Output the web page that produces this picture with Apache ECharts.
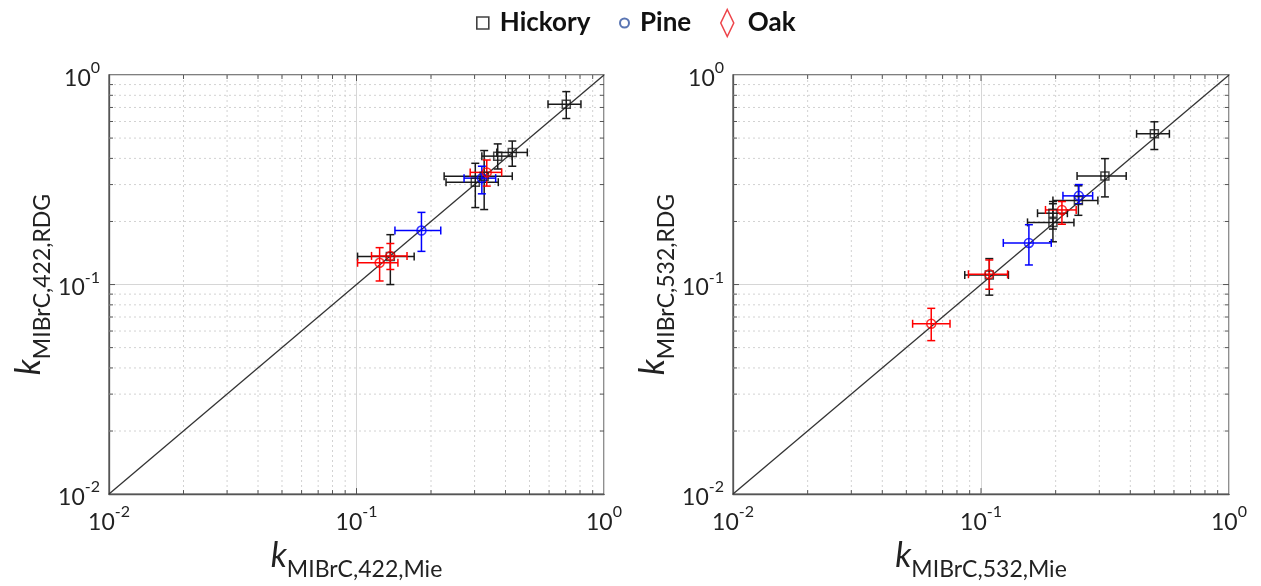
<!DOCTYPE html>
<html><head><meta charset="utf-8">
<script src="https://cdn.jsdelivr.net/npm/echarts@6/dist/echarts.min.js"></script>
<style>html,body{margin:0;padding:0;background:#fff}#c{width:1261px;height:586px}</style>
</head><body><div id="c"></div>
<script>
// each row: [kMie, kRDG, kMie low, kMie high, kRDG low, kRDG high]
const hickory422 = [
  [0.704,0.726,0.594,0.807,0.620,0.833],
  [0.426,0.427,0.369,0.490,0.367,0.484],
  [0.372,0.410,0.321,0.426,0.356,0.469],
  [0.302,0.308,0.230,0.374,0.233,0.379],
  [0.328,0.329,0.226,0.426,0.228,0.436],
  [0.137,0.136,0.101,0.171,0.100,0.173]
];
const pine422 = [
  [0.321,0.322,0.272,0.365,0.271,0.367],
  [0.183,0.181,0.143,0.219,0.144,0.221]
];
const oak422 = [
  [0.336,0.343,0.288,0.386,0.295,0.393],
  [0.137,0.137,0.115,0.160,0.118,0.157],
  [0.124,0.127,0.101,0.147,0.104,0.150]
];
const hickory532 = [
  [0.500,0.524,0.424,0.575,0.441,0.598],
  [0.316,0.330,0.244,0.385,0.262,0.399],
  [0.247,0.252,0.195,0.296,0.214,0.296],
  [0.195,0.219,0.169,0.223,0.184,0.243],
  [0.195,0.198,0.154,0.237,0.160,0.249],
  [0.108,0.111,0.086,0.129,0.089,0.133]
];
const pine532 = [
  [0.248,0.265,0.214,0.282,0.243,0.300],
  [0.156,0.158,0.123,0.192,0.124,0.193]
];
const oak532 = [
  [0.212,0.227,0.182,0.242,0.194,0.249],
  [0.108,0.112,0.089,0.128,0.095,0.131],
  [0.063,0.065,0.053,0.075,0.054,0.077]
];
const axisRange = [0.01, 1];
const decades = [0.01, 0.1];
const minorMultipliers = [2,3,4,5,6,7,8,9];
const xTitles = ['MIBrC,422,Mie', 'MIBrC,532,Mie'];
const yTitles = ['MIBrC,422,RDG', 'MIBrC,532,RDG'];
const groupNames = ['Hickory', 'Pine', 'Oak'];

const colors = {Hickory:'#1a1a1a', Pine:'#0000ff', Oak:'#ff0000'};
const symbols = {Hickory:'rect', Pine:'circle', Oak:'circle'};
const sizes = {Hickory:8, Pine:9, Oak:9};
const dataSets = [
  {Hickory:hickory422, Pine:pine422, Oak:oak422},
  {Hickory:hickory532, Pine:pine532, Oak:oak532}
];

// grid decoration values (minor grid + ticks)
const decoData = [];
decades.forEach(d => minorMultipliers.forEach(m => decoData.push([+(m*d).toPrecision(3), +(m*d).toPrecision(3), 0])));
decoData.push([0.1, 0.1, 1]);

const FONT = 'Lato';

function decoRender(params, api) {
  const v = api.value(0), major = api.value(2);
  const cs = params.coordSys;
  const L = cs.x, R = cs.x + cs.width, T = cs.y, B = cs.y + cs.height;
  const px = api.coord([v, axisRange[1]])[0];
  const py = api.coord([axisRange[1], v])[1];
  const dot = {stroke:'#d2d2d2', lineWidth:1, lineDash:[2,3], fill:null};
  const tk = {stroke:'#555', lineWidth:1, fill:null};
  const t = major ? 6 : 4;
  const ch = [];
  if (!major) {
    ch.push({type:'line', shape:{x1:px, y1:T, x2:px, y2:B}, style:dot});
    ch.push({type:'line', shape:{x1:L, y1:py, x2:R, y2:py}, style:dot});
  }
  ch.push({type:'line', shape:{x1:px, y1:B, x2:px, y2:B - t}, style:tk});
  ch.push({type:'line', shape:{x1:px, y1:T, x2:px, y2:T + t}, style:tk});
  ch.push({type:'line', shape:{x1:L, y1:py, x2:L + t, y2:py}, style:tk});
  ch.push({type:'line', shape:{x1:R, y1:py, x2:R - t, y2:py}, style:tk});
  return {type:'group', children:ch};
}

function errRender(params, api) {
  const x = api.value(0), y = api.value(1);
  const c = api.coord([x, y]);
  const xl = api.coord([api.value(2), y])[0], xh = api.coord([api.value(3), y])[0];
  const yl = api.coord([x, api.value(4)])[1], yh = api.coord([x, api.value(5)])[1];
  const cap = 4;
  const st = {stroke: api.visual('color'), lineWidth: 1.5, fill: null};
  return {type:'group', children:[
    {type:'line', shape:{x1:xl, y1:c[1], x2:xh, y2:c[1]}, style:st},
    {type:'line', shape:{x1:xl, y1:c[1]-cap, x2:xl, y2:c[1]+cap}, style:st},
    {type:'line', shape:{x1:xh, y1:c[1]-cap, x2:xh, y2:c[1]+cap}, style:st},
    {type:'line', shape:{x1:c[0], y1:yl, x2:c[0], y2:yh}, style:st},
    {type:'line', shape:{x1:c[0]-cap, y1:yl, x2:c[0]+cap, y2:yl}, style:st},
    {type:'line', shape:{x1:c[0]-cap, y1:yh, x2:c[0]+cap, y2:yh}, style:st}
  ]};
}

const tickRich = {
  b: {fontSize:23, fontFamily:FONT, color:'#222', lineHeight:30, verticalAlign:'bottom'},
  s: {fontSize:16, fontFamily:FONT, color:'#222', lineHeight:16, verticalAlign:'top'}
};
const titleRich = {
  k: {fontSize:34, fontStyle:'italic', fontFamily:FONT, color:'#222', lineHeight:34, verticalAlign:'top'},
  s: {fontSize:23, fontFamily:FONT, color:'#222', lineHeight:23, padding:[19,0,0,0], verticalAlign:'top'}
};
function tickFmt(v) { return '{b|10}{s|' + Math.round(Math.log10(v)) + '}'; }

const grids = [
  {left:109, top:75, width:495, height:427},
  {left:733, top:75, width:496, height:427}
].map(g => Object.assign(g, {show:true, borderColor:'#555', borderWidth:1.3, backgroundColor:'transparent'}));

function axisBase(i) {
  return {
    type:'log', logBase:10, min:axisRange[0], max:axisRange[1], gridIndex:i,
    axisLine:{show:true, lineStyle:{color:'#555', width:1.3}},
    axisTick:{show:false},
    splitLine:{show:true, lineStyle:{color:'#d6d6d6', width:1}},
    minorSplitLine:{show:false},
    axisLabel:{formatter:tickFmt, rich:tickRich},
    nameLocation:'middle'
  };
}
const xAxes = [0,1].map(i => Object.assign(axisBase(i), {
  name:'{k|k}{s|' + xTitles[i] + '}', nameGap:40, nameTextStyle:{rich:titleRich},
  axisLabel:{formatter:tickFmt, rich:tickRich, margin:10}
}));
const yAxes = [0,1].map(i => Object.assign(axisBase(i), {
  name:'{k|k}{s|' + yTitles[i] + '}', nameGap:58, nameRotate:90, nameTextStyle:{rich:titleRich},
  axisLabel:{formatter:tickFmt, rich:tickRich, margin:9}
}));

const series = [];
[0,1].forEach(i => {
  series.push({type:'custom', name:'grid'+i, xAxisIndex:i, yAxisIndex:i, silent:true, z:1,
    renderItem:decoRender, data:decoData, encode:{x:0, y:1}, clip:false});
  series.push({type:'line', name:'1:1 '+i, xAxisIndex:i, yAxisIndex:i, silent:true, z:2,
    data:[[axisRange[0], axisRange[0]], [axisRange[1], axisRange[1]]],
    symbol:'none', lineStyle:{color:'#333', width:1.3}});
  groupNames.forEach(n => {
    series.push({type:'custom', name:n+' error '+i, xAxisIndex:i, yAxisIndex:i, z:3,
      renderItem:errRender, itemStyle:{color:colors[n]},
      data:dataSets[i][n], encode:{x:0, y:1}});
  });
  groupNames.forEach(n => {
    series.push({type:'scatter', name:n, xAxisIndex:i, yAxisIndex:i, z:4,
      symbol:symbols[n], symbolSize:sizes[n],
      itemStyle:{color:'transparent', borderColor:colors[n], borderWidth:1.5},
      data:dataSets[i][n].map(r => [r[0], r[1]])});
  });
});

const legendText = {fontFamily:FONT, fontWeight:'bold', fontSize:26, color:'#111', lineHeight:30, padding:[0,0,0,6]};
const legends = [
  {left:471, top:3, itemWidth:12, itemHeight:12,
   data:[{name:'Hickory', icon:'rect', itemStyle:{color:'transparent', borderColor:'#111', borderWidth:1.6}}],
   textStyle:legendText},
  {left:614, top:3, itemWidth:9, itemHeight:9,
   data:[{name:'Pine', icon:'circle', itemStyle:{color:'transparent', borderColor:'#2f52a0', borderWidth:2}}],
   textStyle:legendText},
  {left:715, top:3, itemWidth:13, itemHeight:27,
   data:[{name:'Oak', icon:'diamond', itemStyle:{color:'transparent', borderColor:'#e8141b', borderWidth:1.5}}],
   textStyle:Object.assign({}, legendText, {padding:[0,0,0,9]})}
];

const chart = echarts.init(document.getElementById('c'), null, {renderer:'canvas'});
chart.setOption({
  animation:false,
  backgroundColor:'#fff',
  legend:legends,
  grid:grids,
  xAxis:xAxes,
  yAxis:yAxes,
  series:series
});
</script>
</body></html>
